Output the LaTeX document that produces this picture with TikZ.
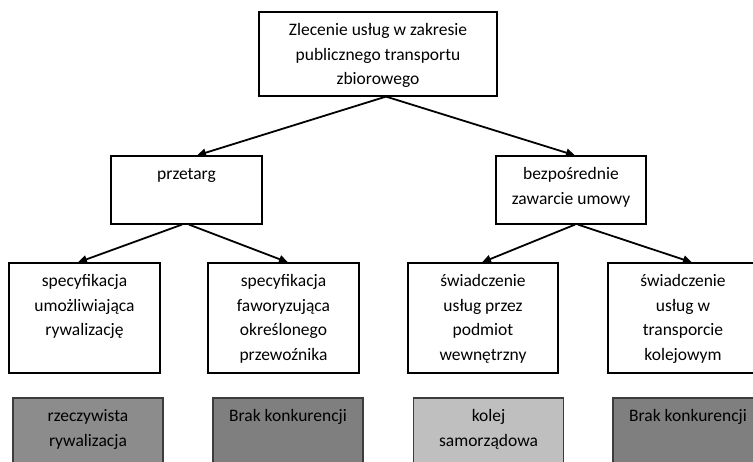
\documentclass[tikz,border=0pt]{standalone}
\usepackage{fontspec}
\setmainfont{Carlito}
\usetikzlibrary{arrows.meta}
\definecolor{rivalgray}{HTML}{8C8C8C}
\definecolor{nocompgray}{HTML}{7F7F7F}
\definecolor{railgray}{HTML}{BFBFBF}
\definecolor{edgegray}{HTML}{3C3C3C}

\begin{document}
\begin{tikzpicture}[x=1pt, y=-1pt,
	font=\fontsize{17.5}{24.5}\selectfont,
	box/.style 2 args={draw, line width=1.2pt, inner sep=0pt,
		execute at begin node={\begin{minipage}[c][#2pt][t]{#1pt}\centering\rule{0pt}{24pt}},
		execute at end node={\end{minipage}}},
	result/.style={box={150}{75}, draw=edgegray, fill=#1}]
	\useasboundingbox (0,0) rectangle (753,462);
	\clip (0,0) rectangle (753,462);

	\node[box={238}{84}] (1) at (378,54) {Zlecenie usług w zakresie\\ publicznego transportu\\ zbiorowego};
	\node[box={151}{68}] (2) at (186.5,190) {przetarg};
	\node[box={150}{68}] (3) at (571,190) {bezpośrednie\\ zawarcie umowy};

	\node[box={151}{110}] (4) at (84.5,318) {specyfikacja\\ umożliwiająca\\ rywalizację};
	\node[box={151}{110}] (5) at (283.5,318) {specyfikacja\\ faworyzująca\\ określonego\\ przewoźnika};
	\node[box={150}{110}] (6) at (483,318) {świadczenie\\ usług przez\\ podmiot\\ wewnętrzny};
	\node[box={150}{110}] (7) at (683,318) {świadczenie\\ usług w\\ transporcie\\ kolejowym};

	\node[result=rivalgray] (8) at (88,435.5) {rzeczywista\\ rywalizacja};
	\node[result=nocompgray] (9) at (288,435.5) {Brak konkurencji};
	\node[result=railgray] (10) at (488.5,435.5) {kolej\\ samorządowa};
	\node[result=nocompgray] (11) at (688,435.5) {Brak konkurencji};

	\path [-{Triangle[length=9pt,width=8pt]}, line width=1.8pt]
	([xshift=8]1.south) edge ([xshift=10.5]2.north)
	([xshift=8]1.south) edge ([xshift=4]3.north)
	([xshift=-4.5]2.south) edge ([xshift=-6.5]4.north)
	([xshift=2.5]2.south) edge ([xshift=4.5]5.north)
	([xshift=4]3.south) edge ([xshift=-1]6.north)
	([xshift=7]3.south) edge ([xshift=9]7.north);
\end{tikzpicture}
\end{document}
